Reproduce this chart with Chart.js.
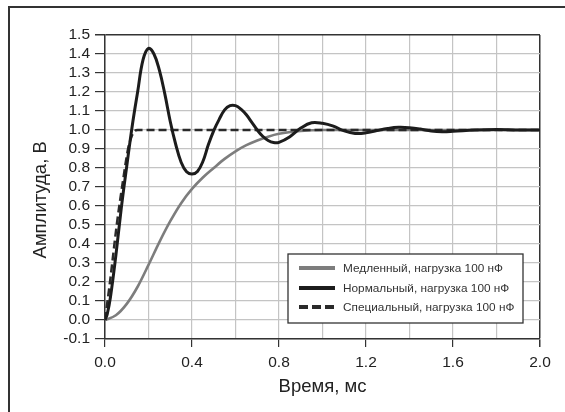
<!DOCTYPE html>
<html>
<head>
<meta charset="utf-8">
<script src="https://cdn.jsdelivr.net/npm/chart.js@4.4.1/dist/chart.umd.min.js"></script>
<style>
  html, body { margin: 0; padding: 0; background: #fff; }
  #wrap { position: relative; width: 565px; height: 412px; }
  #frame { position: absolute; left: 8px; top: 6px; right: 0; bottom: 0;
           border-top: 2px solid #333; border-left: 2px solid #333; pointer-events: none; }
  canvas { position: absolute; left: 0; top: 0; }
</style>
</head>
<body>
<div id="wrap">
  <canvas id="myChart" width="565" height="412"></canvas>
  <div id="frame"></div>
</div>
<script>
// время, мс
const slowT = [0, 0.05, 0.1, 0.15, 0.2, 0.25, 0.3, 0.35, 0.4, 0.45, 0.5, 0.55, 0.6, 0.65, 0.7, 0.75, 0.8, 0.9, 1.0, 1.2, 1.6, 2.0];
const slowV = [0, 0.025, 0.085, 0.175, 0.29, 0.41, 0.52, 0.615, 0.69, 0.75, 0.8, 0.848, 0.888, 0.92, 0.945, 0.965, 0.98, 0.995, 1.0, 1.0, 1.0, 1.0];

const normalT = [0, 0.01, 0.025, 0.05, 0.075, 0.1, 0.125, 0.15, 0.175, 0.2, 0.225, 0.25, 0.275, 0.3, 0.325,
  0.35, 0.375, 0.4, 0.425, 0.45, 0.475, 0.5, 0.525, 0.55, 0.575, 0.6, 0.625, 0.65, 0.675, 0.7, 0.725, 0.75,
  0.775, 0.8, 0.85, 0.9, 0.95, 1.0, 1.05, 1.1, 1.15, 1.2, 1.25, 1.3, 1.35, 1.4, 1.45, 1.5, 1.55, 1.6, 1.7,
  1.8, 1.9, 2.0];
const normalV = [0, 0.03, 0.12, 0.34, 0.59, 0.81, 1.02, 1.2, 1.37, 1.43, 1.4, 1.315, 1.19, 1.045, 0.925,
  0.83, 0.78, 0.768, 0.782, 0.834, 0.922, 0.997, 1.056, 1.106, 1.128, 1.128, 1.11, 1.08, 1.04, 1.0, 0.967, 0.945,
  0.934, 0.935, 0.965, 1.01, 1.038, 1.035, 1.02, 0.995, 0.982, 0.985, 0.997, 1.008, 1.014, 1.012, 1.005, 0.995, 0.991, 0.993, 1.0,
  1.002, 1.0, 1.0];

const specialT = [0, 0.023, 0.054, 0.085, 0.106, 0.122, 0.135, 0.15, 0.4, 1.0, 2.0];
const specialV = [0, 0.2, 0.5, 0.75, 0.9, 0.965, 0.993, 1.0, 1.0, 1.0, 1.0];

const labels = ['Медленный, нагрузка 100 нФ', 'Нормальный, нагрузка 100 нФ', 'Специальный, нагрузка 100 нФ'];

const font = 'Liberation Sans, Arial, sans-serif';
const textColor = '#222';
const gridColor = '#c4c4c4';
const axisColor = '#333';

function toPoints(ts, vs) {
  return ts.map((t, i) => ({ x: t, y: vs[i] }));
}

const ctx = document.getElementById('myChart').getContext('2d');

const data = {
  datasets: [{
    label: labels[0],
    data: toPoints(slowT, slowV),
    borderColor: '#7d7d7d',
    borderWidth: 2.6,
    cubicInterpolationMode: 'monotone',
    order: 3
  },
  {
    label: labels[1],
    data: toPoints(normalT, normalV),
    borderColor: '#1c1c1c',
    borderWidth: 3,
    tension: 0.4,
    order: 1
  },
  {
    label: labels[2],
    data: toPoints(specialT, specialV),
    borderColor: '#2a2a2a',
    borderWidth: 2.5,
    borderDash: [8, 4],
    cubicInterpolationMode: 'monotone',
    order: 2
  }]
};

// legend box inside the plot
const boxLegend = {
  id: 'boxLegend',
  afterDraw(chart) {
    const c = chart.ctx;
    const x = 288, y = 254, w = 235, h = 69;
    c.save();
    c.fillStyle = '#fff';
    c.fillRect(x, y, w, h);
    c.strokeStyle = '#333';
    c.lineWidth = 1.3;
    c.strokeRect(x, y, w, h);
    c.font = '11.8px ' + font;
    c.textBaseline = 'middle';
    const rows = [268, 288, 307];
    chart.data.datasets.forEach((ds, i) => {
      c.strokeStyle = ds.borderColor;
      c.lineWidth = 3.8;
      c.setLineDash(ds.borderDash ? [9, 4] : []);
      c.beginPath();
      c.moveTo(299, rows[i]);
      c.lineTo(335, rows[i]);
      c.stroke();
      c.setLineDash([]);
      c.fillStyle = '#333';
      c.fillText(ds.label, 343, rows[i] + 0.5);
    });
    c.restore();
  }
};

const myChart = new Chart(ctx, {
  type: 'line',
  data: data,
  plugins: [boxLegend],
  options: {
    responsive: false,
    animation: false,
    layout: { padding: { left: 0, top: 35, right: 25, bottom: 0 } },
    elements: {
      point: { radius: 0 },
      line: { fill: false }
    },
    plugins: {
      legend: { display: false },
      tooltip: { enabled: false }
    },
    scales: {
      x: {
        type: 'linear',
        position: 'bottom',
        min: 0,
        max: 2,
        afterFit: (s) => { s.height = 73; },
        border: { color: axisColor, width: 1.5 },
        grid: {
          color: (c) => (c.index === 10 ? axisColor : gridColor),
          lineWidth: (c) => (c.index === 10 ? 1.5 : 1.2),
          tickColor: (c) => (c.index % 2 === 0 ? axisColor : 'rgba(0,0,0,0)'),
          tickLength: 8
        },
        ticks: {
          stepSize: 0.2,
          autoSkip: false,
          maxRotation: 0,
          padding: 6,
          color: textColor,
          font: { family: font, size: 15.5 },
          callback: (v, i) => (i % 2 === 0 ? v.toFixed(1) : '')
        },
        title: {
          display: true,
          text: 'Время, мс',
          color: textColor,
          font: { family: font, size: 18.5 },
          padding: { top: 0, bottom: 14 }
        }
      },
      y: {
        min: -0.1,
        max: 1.5,
        afterFit: (s) => { s.width = 105; },
        border: { color: axisColor, width: 1.5 },
        grid: {
          color: (c) => (c.index === 16 ? axisColor : gridColor),
          lineWidth: (c) => (c.index === 16 ? 1.5 : 1.2),
          tickColor: axisColor,
          tickLength: 10
        },
        ticks: {
          stepSize: 0.1,
          autoSkip: false,
          padding: 5,
          color: textColor,
          font: { family: font, size: 15.5 },
          callback: (v) => v.toFixed(1)
        },
        title: {
          display: true,
          text: 'Амплитуда, В\u00a0\u00a0\u00a0\u00a0\u00a0',
          color: textColor,
          font: { family: font, size: 18.5 },
          padding: { top: 30, bottom: 0 }
        }
      }
    }
  }
});
</script>
</body>
</html>
